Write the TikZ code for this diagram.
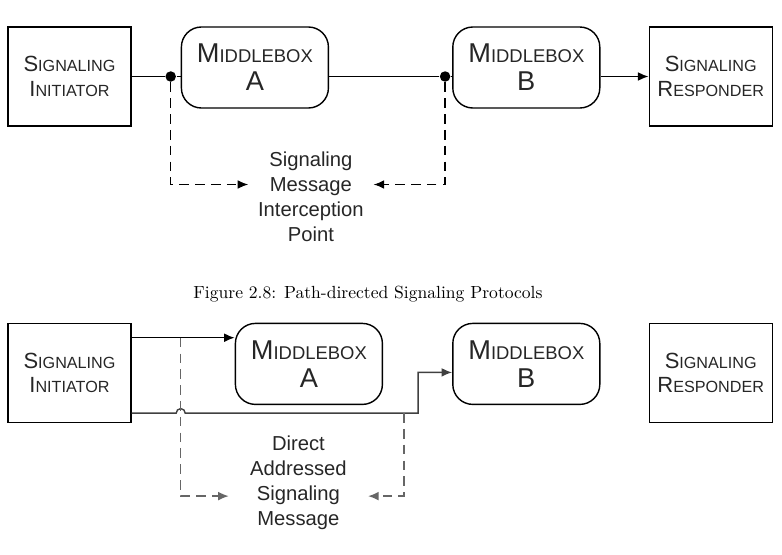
\documentclass[tikz,border=0pt]{standalone}
\usepackage{fontspec}
\newfontfamily\arialfont{Liberation Sans}
\usetikzlibrary{arrows.meta,positioning,calc}

\newcommand{\mbcaps}[2]{#1{\fontsize{10.5}{16}\selectfont #2}}
\newcommand{\epcaps}[2]{#1{\fontsize{9.2}{14.2}\selectfont #2}}

\begin{document}
\begin{tikzpicture}[line width=0.8pt, >={Latex[length=6pt,width=5pt]}]
    \tikzstyle{endpoint} = [rectangle, draw, text=black!85, minimum width=2.46cm, minimum height=1.98cm, align=center, font=\arialfont\fontsize{12.5}{14.2}\selectfont]
    \tikzstyle{middlebox} = [rectangle, draw, text=black!85, rounded corners=0.4cm, minimum width=2.94cm, minimum height=1.62cm, align=center, font=\arialfont\fontsize{15.5}{16}\selectfont]
    \tikzstyle{dot} = [circle, fill, inner sep=0pt, minimum size=0.21cm]
    \tikzstyle{note} = [align=center, text=black!85, font=\arialfont\fontsize{11.5}{14.2}\selectfont]
    \tikzstyle{arrow} = [->]
    \tikzstyle{tap} = [->, dash pattern=on 5.5pt off 3.5pt]

    \useasboundingbox (0,0) rectangle (15.64,-11.08);

    % path-directed signaling
    \node [endpoint] (init) at (1.39,-1.53) {\epcaps{S}{IGNALING}\\\epcaps{I}{NITIATOR}};
    \node [middlebox, below right=0cm and 0.98cm of init.north east] (mbA) {\mbcaps{M}{IDDLEBOX}\\A};
    \node [middlebox, right=2.46cm of mbA] (mbB) {\mbcaps{M}{IDDLEBOX}\\B};
    \node [endpoint, below right=0cm and 0.96cm of mbB.north east] (resp) {\epcaps{S}{IGNALING}\\\epcaps{R}{ESPONDER}};

    \node [dot] (dotA) at ($(init.east -| mbA.west)+(-0.2,0)$) {};
    \node [dot] (dotB) at ($(init.east -| mbB.west)+(-0.14,0)$) {};
    \node [note, minimum width=2.48cm] (intercept) at ($(dotA)!0.5!(dotB)+(0.06,-2.4)$) {Signaling\\Message\\Interception\\Point};

    \draw (init.east) -- (dotA) -- (dotA -| mbA.west);
    \draw (dotA -| mbA.east) -- (dotB) -- (dotB -| mbB.west);
    \draw [arrow] (dotB -| mbB.east) -- (dotB -| resp.west);
    \draw [tap] (dotA) |- ([yshift=0.24cm]intercept.west);
    \draw [tap] (dotB) |- ([yshift=0.24cm]intercept.east);

    \node [font=\fontsize{10}{12}\selectfont] (caption) at (7.36,-5.88) {Figure 2.8: Path-directed Signaling Protocols};

    % direct addressed signaling
    \node [endpoint, below=3.92cm of init] (init2) {\epcaps{S}{IGNALING}\\\epcaps{I}{NITIATOR}};
    \node [middlebox, below right=0cm and 2.06cm of init2.north east] (mbA2) {\mbcaps{M}{IDDLEBOX}\\A};
    \node [middlebox, below=4.28cm of mbB] (mbB2) {\mbcaps{M}{IDDLEBOX}\\B};
    \node [endpoint, below=3.92cm of resp] (resp2) {\epcaps{S}{IGNALING}\\\epcaps{R}{ESPONDER}};

    \coordinate (outA) at ($(init2.north east)+(0,-0.3)$);
    \coordinate (outB) at ($(init2.south east)+(0,0.2)$);
    \coordinate (tapA) at ($(outA)+(0.98,0)$);
    \coordinate (bendB) at ($(outB -| mbB2.west)+(-0.68,0)$);
    \coordinate (tapB) at ($(bendB)+(-0.28,0)$);
    \node [note, minimum width=2.76cm] (direct) at ($(tapA |- outB)!0.5!(tapB)+(0.12,-1.4)$) {Direct\\Addressed\\Signaling\\Message};

    \draw [arrow] (outA) -- (outA -| mbA2.west);
    \draw [arrow, black!75] (outB) -- ($(outB -| tapA)+(-0.09,0)$) arc[start angle=180, end angle=0, radius=0.09] -- (bendB) |- ([yshift=-0.17cm]mbB2.west);
    \draw [tap, black!60] (tapA) |- ([yshift=-0.26cm]direct.west);
    \draw [tap, black!60] (tapB) |- ([yshift=-0.26cm]direct.east);
\end{tikzpicture}
\end{document}
